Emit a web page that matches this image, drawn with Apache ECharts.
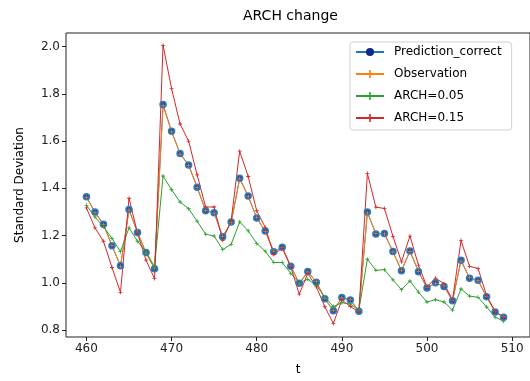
<!DOCTYPE html>
<html><head><meta charset="utf-8">
<script src="https://cdn.jsdelivr.net/npm/echarts@6/dist/echarts.min.js"></script>
<style>html,body{margin:0;padding:0;background:#fff}#c{width:530px;height:381px}</style>
</head><body><div id="c"></div>
<script>
const t = [460,461,462,463,464,465,466,467,468,469,470,471,472,473,474,475,476,477,478,479,480,481,482,483,484,485,486,487,488,489,490,491,492,493,494,495,496,497,498,499,500,501,502,503,504,505,506,507,508,509];
const predictionCorrect = [1.364,1.300,1.248,1.157,1.072,1.310,1.213,1.128,1.060,1.755,1.641,1.547,1.499,1.405,1.305,1.297,1.195,1.257,1.443,1.367,1.274,1.219,1.132,1.151,1.070,0.998,1.048,1.003,0.933,0.882,0.938,0.927,0.880,1.300,1.207,1.209,1.133,1.051,1.135,1.047,0.978,1.000,0.985,0.924,1.096,1.020,1.011,0.941,0.877,0.855];
const observation = [1.362,1.298,1.246,1.159,1.070,1.308,1.215,1.126,1.062,1.750,1.639,1.545,1.497,1.403,1.307,1.295,1.197,1.255,1.440,1.365,1.276,1.217,1.134,1.149,1.072,0.996,1.046,1.005,0.935,0.884,0.936,0.929,0.882,1.296,1.209,1.207,1.131,1.053,1.133,1.049,0.980,0.998,0.987,0.926,1.092,1.022,1.009,0.943,0.879,0.857];
const arch005 = [1.328,1.279,1.237,1.188,1.132,1.233,1.176,1.132,1.068,1.452,1.394,1.342,1.314,1.261,1.206,1.198,1.141,1.163,1.258,1.220,1.167,1.134,1.086,1.086,1.040,1.000,1.015,0.990,0.940,0.900,0.916,0.910,0.885,1.100,1.053,1.056,1.013,0.971,1.008,0.961,0.919,0.929,0.919,0.885,0.974,0.944,0.939,0.898,0.855,0.838];
const arch015 = [1.317,1.233,1.176,1.065,0.960,1.358,1.210,1.096,1.018,2.005,1.822,1.672,1.600,1.457,1.321,1.321,1.180,1.264,1.557,1.450,1.305,1.235,1.120,1.147,1.068,0.952,1.040,0.983,0.899,0.828,0.928,0.900,0.877,1.463,1.320,1.315,1.197,1.089,1.198,1.075,0.983,1.020,0.997,0.928,1.179,1.070,1.061,0.946,0.880,0.853];
const xTicks = [460,470,480,490,500,510];
const yTicks = [0.8,1.0,1.2,1.4,1.6,1.8,2.0];
const seriesNames = ['Prediction_correct','Observation','ARCH=0.05','ARCH=0.15'];

const FONT = 'DejaVu Sans';
const PLUS = 'path://M4 0L6 0L6 4L10 4L10 6L6 6L6 10L4 10L4 6L0 6L0 4L4 4Z';
function pairs(v){ return t.map((x,i)=>[x,v[i]]); }

const chart = echarts.init(document.getElementById('c'), null, {renderer:'canvas'});
chart.setOption({
  animation:false,
  backgroundColor:'#fff',
  title:{text:'ARCH change', left:243, top:9, padding:0,
    textStyle:{fontFamily:FONT, fontSize:14, fontWeight:'normal', color:'#000'}},
  grid:{left:66, right:-1, top:33, bottom:44, show:true, borderColor:'#222', borderWidth:1, backgroundColor:'transparent'},
  legend:{orient:'vertical', left:350, top:42, padding:[4,10,6,5], itemWidth:28, itemHeight:10, itemGap:10,
    borderColor:'#d0d0d0', borderWidth:1, borderRadius:3, backgroundColor:'rgba(255,255,255,0.8)',
    textStyle:{fontFamily:FONT, fontSize:12, color:'#000', padding:[0,0,0,5]},
    data:[{name:seriesNames[0], itemStyle:{color:'#0c2a8c', borderWidth:0}}, seriesNames[1], seriesNames[2], seriesNames[3]]},
  xAxis:{type:'value', min:457.6, max:512.1, name:'t', nameLocation:'middle', nameGap:27,
    nameTextStyle:{fontFamily:FONT, fontSize:12, color:'#000'},
    axisLine:{show:false}, splitLine:{show:false},
    axisTick:{show:true, length:4, lineStyle:{color:'#222'}, customValues:xTicks},
    axisLabel:{fontFamily:FONT, fontSize:12, color:'#222', margin:6, customValues:xTicks}},
  yAxis:{type:'value', min:0.771, max:2.057, name:'Standard Deviation', nameLocation:'middle', nameRotate:90, nameGap:40,
    nameTextStyle:{fontFamily:FONT, fontSize:12, color:'#000'},
    axisLine:{show:false}, splitLine:{show:false},
    axisTick:{show:true, length:4, lineStyle:{color:'#222'}, customValues:yTicks},
    axisLabel:{fontFamily:FONT, fontSize:12, color:'#222', margin:6, customValues:yTicks, formatter:v=>v.toFixed(1)}},
  series:[
    {name:seriesNames[0], type:'line', data:pairs(predictionCorrect), symbol:'circle', symbolSize:6, showAllSymbol:true,
      lineStyle:{color:'#1f77b4', width:1}, itemStyle:{color:'#1a4f9c', borderColor:'#2f7cc0', borderWidth:1.5}},
    {name:seriesNames[1], type:'line', data:pairs(observation), symbol:PLUS, symbolSize:4, showAllSymbol:true,
      lineStyle:{color:'#ff7f0e', width:1}, itemStyle:{color:'#ff7f0e'}},
    {name:seriesNames[2], type:'line', data:pairs(arch005), symbol:PLUS, symbolSize:4, showAllSymbol:true,
      lineStyle:{color:'#2ca02c', width:1}, itemStyle:{color:'#2ca02c'}},
    {name:seriesNames[3], type:'line', data:pairs(arch015), symbol:PLUS, symbolSize:4, showAllSymbol:true,
      lineStyle:{color:'#d62728', width:1}, itemStyle:{color:'#d62728'}}
  ]
});
</script></body></html>
